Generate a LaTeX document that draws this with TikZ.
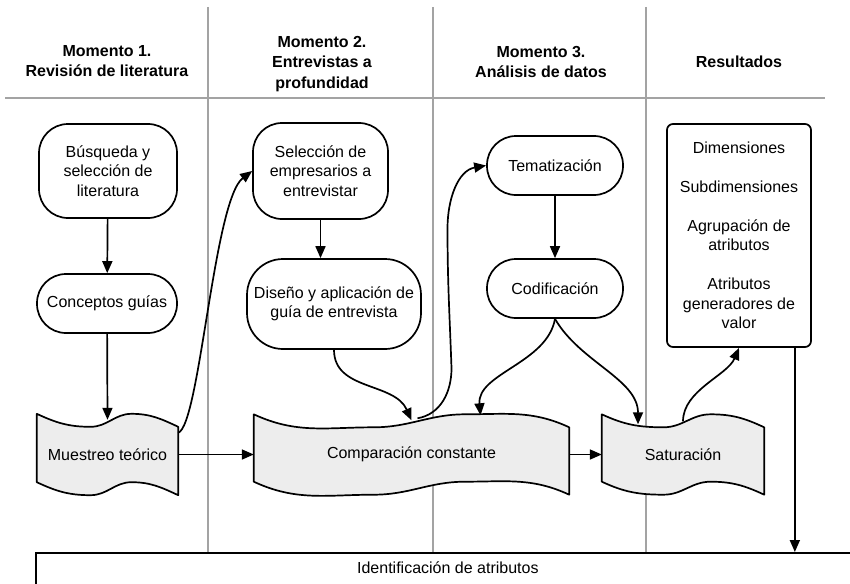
\documentclass[tikz,border=0pt]{standalone}
\usepackage{fontspec}
\setmainfont{Liberation Sans}
\usetikzlibrary{arrows.meta,calc,backgrounds}

\newcommand{\ondas}[1]{%
  \filldraw[line width=1.7pt, fill=black!7, line join=round]
    (#1.north west)
      to[out=-25,in=180] ($(#1.north west)!0.38!(#1.north east)+(0,-13)$)
      to[out=0,in=180] ($(#1.north west)!0.67!(#1.north east)$)
      to[out=0,in=155] ($(#1.north east)+(0,-13)$)
      -- (#1.south east)
      to[out=155,in=0] ($(#1.south west)!0.67!(#1.south east)+(0,13)$)
      to[out=180,in=0] ($(#1.south west)!0.38!(#1.south east)$)
      to[out=180,in=-25] ($(#1.south west)+(0,13)$)
      -- cycle;}

\begin{document}
\begin{tikzpicture}[x=1pt,y=1pt,
  every node/.style={font=\fontsize{16}{19.5}\selectfont},
  carril/.style={draw=black!36, line width=1.6pt},
  titulo/.style={font=\fontsize{16}{20.5}\selectfont\bfseries, align=center},
  etapa/.style={draw, line width=1.7pt, fill=white, rounded corners=29pt, align=center, inner sep=0pt},
  cinta/.style={align=center, inner sep=0pt},
  flecha/.style={line width=1.7pt, -{Triangle[length=12pt,width=10pt]}}]
\useasboundingbox (0,0) rectangle (850,-583);

\node[titulo] (m1) at (107,-61) {Momento 1.\\Revisión de literatura};
\node[titulo] (m2) at (322,-64) {Momento 2.\\Entrevistas a\\profundidad};
\node[titulo] (m3) at (541,-62) {Momento 3.\\Análisis de datos};
\node[titulo] (m4) at (739,-62) {Resultados};

\node[etapa, minimum width=138pt, minimum height=94pt] (busq) at (108,-171) {Búsqueda y\\selección de\\literatura};
\node[etapa, minimum width=140pt, minimum height=59pt] (conc) at (107,-303.5) {Conceptos guías};
\node[etapa, minimum width=135pt, minimum height=96pt] (sel) at (320.5,-171) {Selección de\\empresarios a\\entrevistar};
\node[etapa, minimum width=174pt, minimum height=90pt, rounded corners=36pt] (dis) at (334,-304) {Diseño y aplicación de\\guía de entrevista};
\node[etapa, minimum width=136pt, minimum height=59pt] (tem) at (555,-165.5) {Tematización};
\node[etapa, minimum width=136pt, minimum height=59pt] (cod) at (555,-288.5) {Codificación};
\node[etapa, minimum width=144pt, minimum height=223pt, rounded corners=6pt] (res) at (739,-235.5)
  {Dimensiones\\[19.5pt]Subdimensiones\\[19.5pt]Agrupación de\\atributos\\[19.5pt]Atributos\\generadores de\\valor};

\node[cinta, minimum width=141pt, minimum height=81pt] (mue) at (107.5,-454.5) {Muestreo teórico};
\node[cinta, minimum width=315pt, minimum height=80pt] (comp) at (411.5,-454.5) {Comparación constante};
\node[cinta, minimum width=162pt, minimum height=80pt] (sat) at (683,-454.5) {Saturación};

\node[draw, line width=1.7pt, minimum width=824pt, minimum height=50pt, text depth=20pt, inner sep=0pt, anchor=north west] (idf) at (35,-552) {Identificación de atributos};

\begin{scope}[on background layer]
\foreach \x in {208,433,646}
  \draw[carril] (\x,-7) -- (\x,-552);
\draw[carril] (5,-98) -- (825,-98);
\foreach \c in {mue,comp,sat}
  {\ondas{\c}}
\end{scope}

\draw[flecha] (busq) -- (conc);
\draw[flecha] (conc) -- ([yshift=-6pt]mue.north);
\draw[flecha] ([yshift=-19pt]mue.north east) to[out=20,in=217,out distance=23pt,in distance=48pt] (sel.west);
\draw[flecha] (sel.south) -- (sel.south |- dis.north);
\draw[flecha] (dis.south) to[out=-90,in=114,out distance=41pt,in distance=42pt] ([yshift=-6pt]comp.north);
\draw[flecha] ([xshift=6pt,yshift=-4pt]comp.north) to[out=10,in=-90] ++(34,50) to[out=92,in=-90] ++(-4,140) to[out=90,in=190] (tem.west);
\draw[flecha] (tem) -- (cod);
\draw[flecha] (cod.south) to[out=-100,in=95,out distance=45pt,in distance=42pt] ([xshift=69pt,yshift=-1pt]comp.north);
\draw[flecha] (cod.south) to[out=-60,in=90,out distance=50pt,in distance=45pt] ([xshift=-45pt,yshift=-10pt]sat.north);
\draw[flecha] ([yshift=-7pt]sat.north) to[out=90,in=-113,out distance=31pt,in distance=30pt] (res.south);
\draw[flecha] ([xshift=-17pt]res.south east) -- ([xshift=-17pt]res.south east |- idf.north);
\draw[flecha] (mue.east) -- (comp.west);
\draw[flecha] (comp.east) -- (sat.west);
\end{tikzpicture}
\end{document}
